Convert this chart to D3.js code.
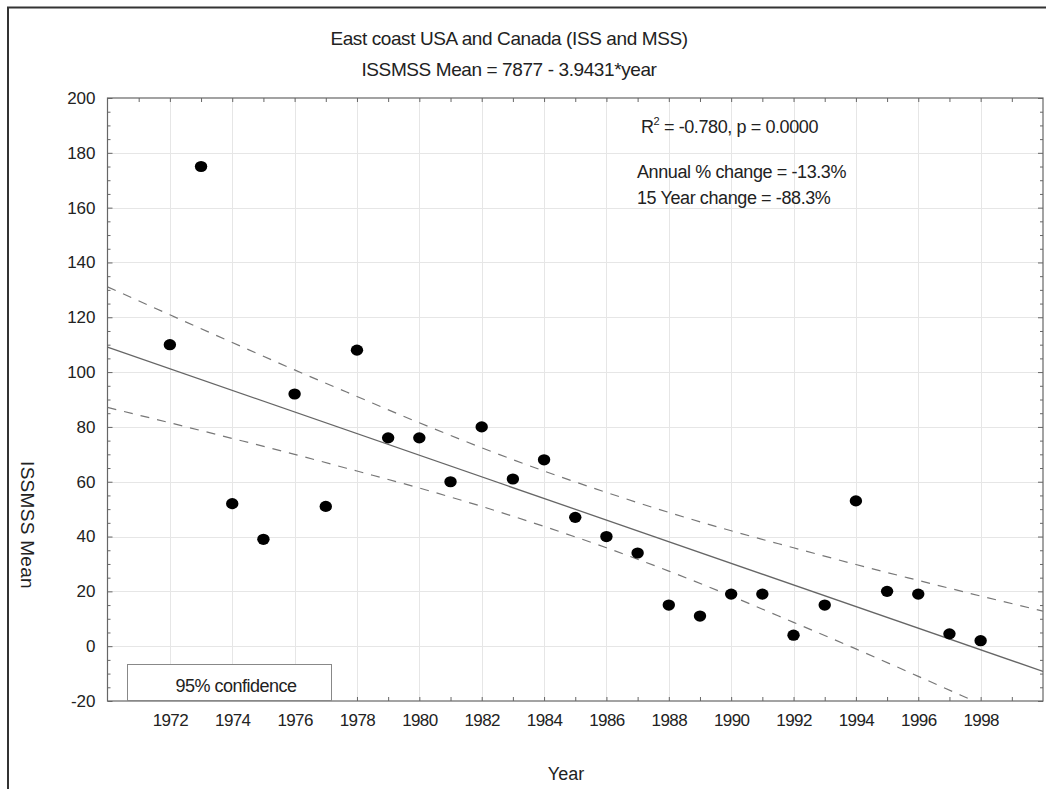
<!DOCTYPE html>
<html>
<head>
<meta charset="utf-8">
<script src="https://cdn.jsdelivr.net/npm/d3@7/dist/d3.min.js"></script>
<style>
  html, body { margin: 0; padding: 0; background: #fff; }
  svg { display: block; }
  text { font-family: "Liberation Sans", Arial, sans-serif; fill: #222; }
</style>
</head>
<body>
<svg id="chart" width="1046" height="789"></svg>
<script>
// ---- data ----
const years = [1972, 1973, 1974, 1975, 1976, 1977, 1978, 1979, 1980, 1981, 1982, 1983, 1984,
               1985, 1986, 1987, 1988, 1989, 1990, 1991, 1992, 1993, 1994, 1995, 1996, 1997, 1998];
const means = [110, 175, 52, 39, 92, 51, 108, 76, 76, 60, 80, 61, 68,
               47, 40, 34, 15, 11, 19, 19, 4, 15, 53, 20, 19, 4.5, 2];

// fitted line ISSMSS Mean = 7877 - 3.9431*year, at the plot's edges
const fitYears = [1970, 2000];
const fitValues = [109.1, -9.2];

// 95% confidence band
const bandYears = [1970, 1972, 1974, 1976, 1978, 1980, 1982, 1984, 1986, 1988, 1990, 1992, 1994, 1996, 1998, 2000];
const bandUpper = [131.1, 120.9, 110.8, 100.8, 91.1, 81.5, 72.4, 63.9, 56.1, 48.8, 42.1, 35.9, 29.8, 24.0, 18.3, 12.8];
const bandLower = [87.1, 81.5, 75.8, 70.0, 63.9, 57.7, 51.0, 43.7, 35.9, 27.4, 18.3, 8.7, -1.0, -11.0, -21.1, -31.2];

const xTickLabels = [1972, 1974, 1976, 1978, 1980, 1982, 1984, 1986, 1988, 1990, 1992, 1994, 1996, 1998];
const yTickLabels = [-20, 0, 20, 40, 60, 80, 100, 120, 140, 160, 180, 200];

const titleLines = ["East coast USA and Canada (ISS and MSS)", "ISSMSS Mean = 7877 - 3.9431*year"];
const statLines = ["Annual % change = -13.3%", "15 Year change = -88.3%"];

// ---- layout ----
const svg = d3.select("#chart");
const pL = 107.5, pR = 1043, pT = 98, pB = 701;
const x = d3.scaleLinear().domain([1970, 2000]).range([pL, pR]);
const y = d3.scaleLinear().domain([-20, 200]).range([pB, pT]);

// outer border
svg.append("path").attr("d", `M8,789 L8,7.5 L1046,7.5`).attr("fill", "none")
  .attr("stroke", "#333").attr("stroke-width", 2);

svg.append("defs").append("clipPath").attr("id", "plotclip")
  .append("rect").attr("x", pL).attr("y", pT).attr("width", pR - pL).attr("height", pB - pT);

// grid
const grid = svg.append("g").attr("stroke", "#e6e6e6").attr("stroke-width", 1);
grid.selectAll("line.v").data(xTickLabels).join("line").attr("class", "v")
  .attr("x1", d => Math.round(x(d)) + 0.5).attr("x2", d => Math.round(x(d)) + 0.5)
  .attr("y1", pT).attr("y2", pB);
grid.selectAll("line.h").data(yTickLabels.filter(d => d > -20 && d < 200)).join("line").attr("class", "h")
  .attr("y1", d => Math.round(y(d)) + 0.5).attr("y2", d => Math.round(y(d)) + 0.5)
  .attr("x1", pL).attr("x2", pR);

// axes (ticks drawn inward on all four sides)
const yearsAll = d3.range(1971, 2000);
const minorY = d3.range(-15, 200, 5).filter(d => d % 20 !== 0);
const axStyle = g => g.call(s => s.select(".domain").remove())
  .call(s => s.selectAll("line").attr("stroke", "#666"));

svg.append("g").attr("transform", `translate(0,${pB})`)
  .call(d3.axisTop(x).tickValues(yearsAll).tickSize(4).tickFormat(""))
  .call(axStyle);
svg.append("g").attr("transform", `translate(0,${pT})`)
  .call(d3.axisBottom(x).tickValues(yearsAll).tickSize(4).tickFormat(""))
  .call(axStyle);
svg.append("g").attr("transform", `translate(${pL},0)`)
  .call(d3.axisRight(y).tickValues(yTickLabels).tickSize(5).tickFormat(""))
  .call(axStyle);
svg.append("g").attr("transform", `translate(${pL},0)`)
  .call(d3.axisRight(y).tickValues(minorY).tickSize(3).tickFormat(""))
  .call(axStyle);
svg.append("g").attr("transform", `translate(${pR},0)`)
  .call(d3.axisLeft(y).tickValues(yTickLabels).tickSize(5).tickFormat(""))
  .call(axStyle);
svg.append("g").attr("transform", `translate(${pR},0)`)
  .call(d3.axisLeft(y).tickValues(minorY).tickSize(3).tickFormat(""))
  .call(axStyle);

// tick labels
svg.append("g").attr("transform", `translate(0,${pB})`)
  .call(d3.axisBottom(x).tickValues(xTickLabels).tickSize(0).tickPadding(13).tickFormat(d => String(d)))
  .call(g => g.select(".domain").remove())
  .call(g => g.selectAll("text").attr("font-size", 17).attr("fill", "#222")
    .attr("font-family", "'Liberation Sans', Arial, sans-serif").attr("letter-spacing", -0.6));
svg.append("g").attr("transform", `translate(${pL},0)`)
  .call(d3.axisLeft(y).tickValues(yTickLabels).tickSize(0).tickPadding(12).tickFormat(d => String(d)))
  .call(g => g.select(".domain").remove())
  .call(g => g.selectAll("text").attr("font-size", 17).attr("fill", "#222")
    .attr("font-family", "'Liberation Sans', Arial, sans-serif"));

// plot frame
svg.append("rect").attr("x", pL).attr("y", pT).attr("width", pR - pL).attr("height", pB - pT)
  .attr("fill", "none").attr("stroke", "#666").attr("stroke-width", 1.2);

// lines
const plot = svg.append("g").attr("clip-path", "url(#plotclip)");
const line = d3.line().x(d => x(d[0])).y(d => y(d[1]));
const curve = d3.line().x(d => x(d[0])).y(d => y(d[1])).curve(d3.curveMonotoneX);
plot.append("path").attr("d", line(fitYears.map((yr, i) => [yr, fitValues[i]])))
  .attr("fill", "none").attr("stroke", "#666").attr("stroke-width", 1.3);
plot.append("path").attr("d", curve(bandYears.map((yr, i) => [yr, bandUpper[i]])))
  .attr("fill", "none").attr("stroke", "#777").attr("stroke-width", 1.2).attr("stroke-dasharray", "9,8");
plot.append("path").attr("d", curve(bandYears.map((yr, i) => [yr, bandLower[i]])))
  .attr("fill", "none").attr("stroke", "#777").attr("stroke-width", 1.2).attr("stroke-dasharray", "9,8");

// points
plot.selectAll("ellipse.pt").data(years).join("ellipse").attr("class", "pt")
  .attr("cx", d => x(d)).attr("cy", (d, i) => y(means[i]))
  .attr("rx", 6.2).attr("ry", 5.6).attr("fill", "#000");

// legend box
svg.append("rect").attr("x", 127.5).attr("y", 664.5).attr("width", 204).attr("height", 36)
  .attr("fill", "#fff").attr("stroke", "#888").attr("stroke-width", 1);
svg.append("text").attr("x", 236).attr("y", 692).attr("text-anchor", "middle")
  .attr("font-size", 18).attr("letter-spacing", -0.5).text("95% confidence");

// titles
svg.selectAll("text.title").data(titleLines).join("text").attr("class", "title")
  .attr("x", 509).attr("y", (d, i) => 45 + i * 31).attr("text-anchor", "middle")
  .attr("font-size", 19).attr("letter-spacing", -0.4).text(d => d);

// annotations
const r2 = svg.append("text").attr("x", 641).attr("y", 133).attr("font-size", 18).attr("letter-spacing", -0.4);
r2.append("tspan").text("R");
r2.append("tspan").attr("font-size", 11).attr("dy", -8).text("2");
r2.append("tspan").attr("dy", 8).text(" = -0.780, p = 0.0000");
svg.selectAll("text.stat").data(statLines).join("text").attr("class", "stat")
  .attr("x", 637).attr("y", (d, i) => 178 + i * 26)
  .attr("font-size", 18).attr("letter-spacing", -0.4).text(d => d);

// axis titles
svg.append("text").attr("x", 566).attr("y", 780).attr("text-anchor", "middle")
  .attr("font-size", 18).text("Year");
svg.append("text").attr("transform", "translate(21,525) rotate(90)").attr("text-anchor", "middle")
  .attr("font-size", 19).attr("letter-spacing", 0.3).text("ISSMSS Mean");
</script>
</body>
</html>
